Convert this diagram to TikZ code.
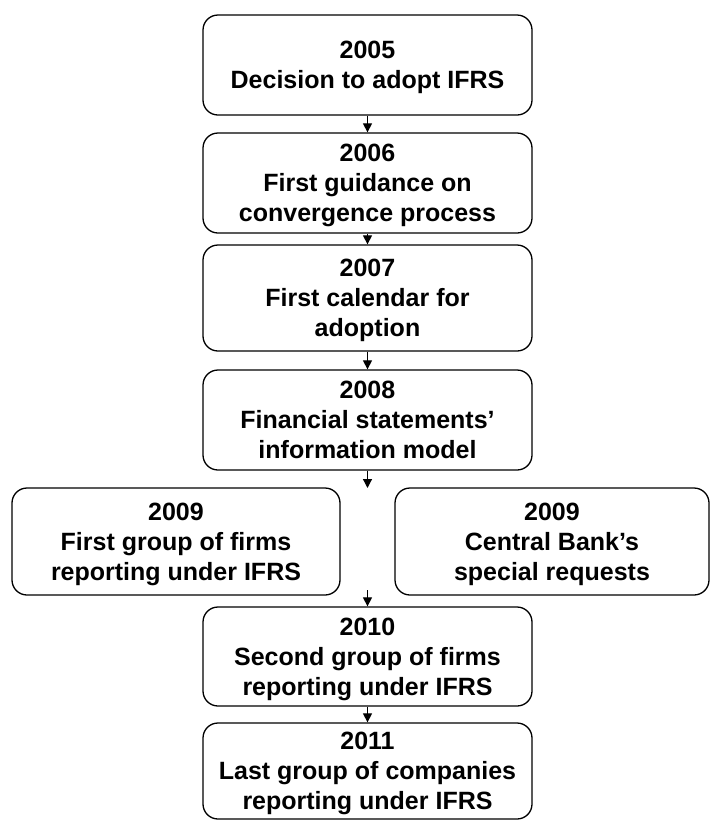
\documentclass[tikz,border=0pt]{standalone}
\usepackage{fontspec}
\setmainfont{Liberation Sans}
\usetikzlibrary{arrows.meta}
\newcommand\tstr{\rule{0pt}{23pt}}
\newcommand\bstr{\rule[-5.5pt]{0pt}{5.5pt}}
\begin{document}
\begin{tikzpicture}[x=1pt,y=-1pt,
  stepbox/.style={draw=black, line width=1.3pt, rounded corners=15pt, align=center,
    inner sep=0pt, font={\fontsize{25}{30}\selectfont\bfseries}},
  link/.style={line width=1.2pt, -{Triangle[length=9pt,width=9pt]}}]
\useasboundingbox (0,0) rectangle (710,820);
\node[stepbox, minimum width=329pt, minimum height=100pt] (a) at (367.5,65) {\tstr 2005\\Decision to adopt IFRS\bstr};
\node[stepbox, minimum width=329pt, minimum height=100pt] (b) at (367.5,183) {\tstr 2006\\First guidance on\\convergence process\bstr};
\node[stepbox, minimum width=329pt, minimum height=106pt] (c) at (367.5,298) {\tstr 2007\\First calendar for\\adoption\bstr};
\node[stepbox, minimum width=329pt, minimum height=100pt] (d) at (367.5,420) {\tstr 2008\\Financial statements’\\information model\bstr};
\node[stepbox, minimum width=328pt, minimum height=107pt] (e1) at (176,541.5) {\tstr 2009\\First group of firms\\reporting under IFRS\bstr};
\node[stepbox, minimum width=314pt, minimum height=107pt] (e2) at (552,541.5) {\tstr 2009\\Central Bank’s\\special requests\bstr};
\node[stepbox, minimum width=329pt, minimum height=99pt] (f) at (367.5,656.5) {\tstr 2010\\Second group of firms\\reporting under IFRS\bstr};
\node[stepbox, minimum width=329pt, minimum height=96pt] (g) at (367.5,771) {\tstr 2011\\Last group of companies\\reporting under IFRS\bstr};
\coordinate (m1) at (367.5,488);
\coordinate (m2) at (367.5,590);
\draw[link] (a) -- (b);
\draw[link] (b) -- (c);
\draw[link] (c) -- (d);
\draw[link] (d) -- (m1);
\draw[link] (m2) -- (f);
\draw[link] (f) -- (g);
\end{tikzpicture}
\end{document}
